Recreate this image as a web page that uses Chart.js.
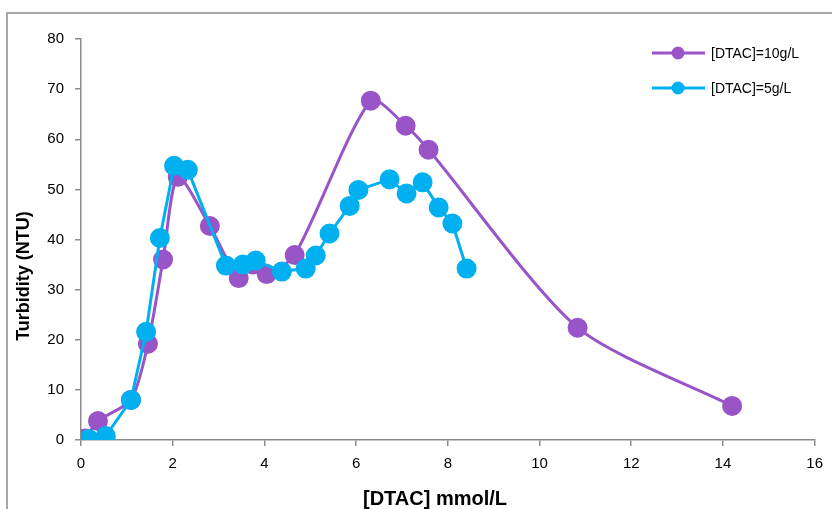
<!DOCTYPE html>
<html lang="en">
<head>
  <meta charset="UTF-8">
  <title>Turbidity vs DTAC</title>
  <script src="https://cdn.jsdelivr.net/npm/chart.js"></script>
  <style>
    body { margin: 0; background: #fff; }
    .box { width: 832px; height: 509px; position: relative; }
  </style>
</head>
<body>
  <div class="box">
    <canvas id="grafico" width="832" height="509"></canvas>
  </div>

  <script>
    // [DTAC]=10g/L
    const x10 = [0.1, 0.37, 1.09, 1.46, 1.79, 2.11, 2.81, 3.44, 3.75, 4.05, 4.66, 6.32, 7.08, 7.58, 10.83, 14.2];
    const y10 = [0.3, 3.8, 8.0, 19.2, 36.0, 52.5, 42.7, 32.3, 35.0, 33.1, 36.9, 67.7, 62.7, 57.9, 22.4, 6.8];
    // [DTAC]=5g/L
    const x5 = [0.17, 0.54, 1.09, 1.42, 1.72, 2.03, 2.33, 3.16, 3.53, 3.81, 4.38, 4.9, 5.12, 5.42, 5.86, 6.05, 6.73, 7.1, 7.45, 7.8, 8.1, 8.41];
    const y5 = [0.2, 0.8, 8.0, 21.6, 40.3, 54.7, 53.9, 34.8, 35.0, 35.8, 33.6, 34.2, 36.8, 41.2, 46.7, 49.9, 52.0, 49.2, 51.4, 46.4, 43.2, 34.2];

    const xTicks = [0, 2, 4, 6, 8, 10, 12, 14, 16];
    const yTicks = [0, 10, 20, 30, 40, 50, 60, 70, 80];

    const roxo = '#9954c8';
    const azul = '#00b0f0';
    const fonte = '"Liberation Sans", Arial, sans-serif';

    const pontos = (xs, ys) => xs.map((x, i) => ({ x: x, y: ys[i] }));

    const extras = {
      id: 'extras',
      beforeDraw(chart) {
        const c = chart.ctx;
        c.save();
        c.fillStyle = '#fff';
        c.fillRect(0, 0, chart.width, chart.height);
        // moldura
        c.strokeStyle = '#8c8c8c';
        c.lineWidth = 1.5;
        c.beginPath();
        c.moveTo(7, chart.height);
        c.lineTo(7, 13);
        c.lineTo(chart.width, 13);
        c.stroke();
        c.restore();
      },
      afterDraw(chart) {
        const c = chart.ctx;
        const a = chart.chartArea;
        c.save();
        c.fillStyle = '#000';
        c.font = 'bold 20px ' + fonte;
        c.textAlign = 'center';
        c.textBaseline = 'middle';
        c.fillText('[DTAC] mmol/L', 435, 499);
        c.translate(24, 276);
        c.rotate(-Math.PI / 2);
        c.font = 'bold 18px ' + fonte;
        c.fillText('Turbidity (NTU)', 0, 0);
        c.restore();

        // legenda
        const itens = [['[DTAC]=10g/L', roxo, 53], ['[DTAC]=5g/L', azul, 88]];
        c.save();
        c.font = '14px ' + fonte;
        c.textBaseline = 'middle';
        itens.forEach(([txt, cor, y]) => {
          c.strokeStyle = cor;
          c.lineWidth = 3;
          c.beginPath();
          c.moveTo(652, y);
          c.lineTo(705, y);
          c.stroke();
          c.fillStyle = cor;
          c.beginPath();
          c.arc(678, y, 6.5, 0, Math.PI * 2);
          c.fill();
          c.fillStyle = '#000';
          c.fillText(txt, 711, y + 1);
        });
        c.restore();
      }
    };

    new Chart(document.getElementById('grafico'), {
      type: 'scatter',
      data: {
        datasets: [
          {
            label: '[DTAC]=10g/L',
            data: pontos(x10, y10),
            showLine: true,
            borderColor: roxo,
            backgroundColor: roxo,
            pointBackgroundColor: roxo,
            pointBorderColor: roxo,
            borderWidth: 3,
            pointRadius: 8.5,
            tension: 0.25,
            order: 2
          },
          {
            label: '[DTAC]=5g/L',
            data: pontos(x5, y5),
            showLine: true,
            borderColor: azul,
            backgroundColor: azul,
            pointBackgroundColor: azul,
            pointBorderColor: azul,
            borderWidth: 3,
            pointRadius: 8.5,
            tension: 0,
            order: 1
          }
        ]
      },
      options: {
        responsive: false,
        animation: false,
        layout: { padding: { left: 0, top: 39, right: 17, bottom: 0 } },
        plugins: { legend: { display: false }, tooltip: { enabled: false } },
        scales: {
          x: {
            type: 'linear',
            min: 0,
            max: 16,
            afterFit: s => { s.height = 69; },
            afterBuildTicks: s => { s.ticks = xTicks.map(v => ({ value: v })); },
            grid: { drawOnChartArea: false, color: '#8c8c8c', tickLength: 6, lineWidth: 1.5 },
            border: { color: '#8c8c8c', width: 1.5 },
            ticks: { color: '#000', font: { family: fonte, size: 15 }, padding: 9, maxRotation: 0 }
          },
          y: {
            type: 'linear',
            min: 0,
            max: 80,
            afterFit: s => { s.width = 81; },
            afterBuildTicks: s => { s.ticks = yTicks.map(v => ({ value: v })); },
            grid: { drawOnChartArea: false, color: '#8c8c8c', tickLength: 6, lineWidth: 1.5 },
            border: { color: '#8c8c8c', width: 1.5 },
            ticks: { color: '#000', font: { family: fonte, size: 15 }, padding: 11 }
          }
        }
      },
      plugins: [extras]
    });
  </script>
</body>
</html>
